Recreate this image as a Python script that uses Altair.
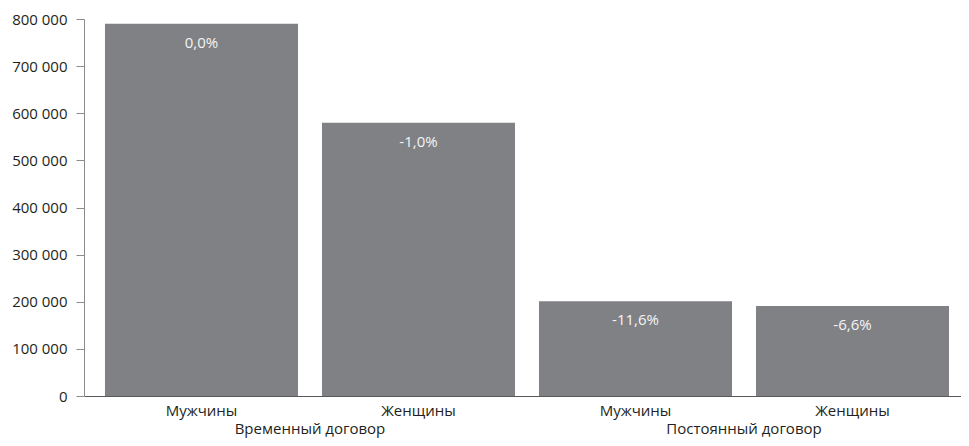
import altair as alt
import pandas as pd

contracts = ["Временный договор", "Временный договор", "Постоянный договор", "Постоянный договор"]
sexes = ["Мужчины", "Женщины", "Мужчины", "Женщины"]
values = [790000, 580000, 201000, 191000]
changes = ["0,0%", "-1,0%", "-11,6%", "-6,6%"]

keys = [f"{c}|{s}" for c, s in zip(contracts, sexes)]
df = pd.DataFrame({"key": keys, "contract": contracts, "sex": sexes,
                   "value": values, "change": changes})

FONT = "Open Sans"
W, H = 877, 377
BAR = "#808185"

x_enc = alt.X("key:N", sort=keys,
              scale=alt.Scale(paddingInner=0.1106, paddingOuter=0.076, align=0.636),
              axis=alt.Axis(title=None, labelAngle=0, ticks=False, labelPadding=7,
                            labelExpr="split(datum.label, '|')[1]",
                            labelFont=FONT, labelFontSize=15, labelColor="#231f20",
                            domainColor="#58585a", domainWidth=1.2, grid=False))

bars = alt.Chart(df).mark_bar(color=BAR).encode(
    x=x_enc,
    y=alt.Y("value:Q", scale=alt.Scale(domain=[0, 800000], nice=False),
            axis=alt.Axis(title=None, values=[0, 100000, 200000, 300000, 400000,
                                              500000, 600000, 700000, 800000],
                          labelExpr="replace(format(datum.value, ','), ',', ' ')",
                          labelFont=FONT, labelFontSize=15, labelColor="#231f20",
                          tickSize=8, tickColor="#8c8c8c", domainColor="#8c8c8c",
                          labelPadding=9, grid=False)),
)

labels = alt.Chart(df).mark_text(color="#f4f4f4", font=FONT, fontSize=15,
                                 baseline="alphabetic", dy=24).encode(
    x=alt.X("key:N", sort=keys),
    y=alt.Y("value:Q"),
    text="change:N",
)

groups = alt.Chart(df).transform_filter(alt.datum.sex == "Мужчины").mark_text(
    font=FONT, fontSize=15, color="#231f20", baseline="alphabetic", dx=12
).encode(
    x=alt.X("key:N", sort=keys, bandPosition=1),
    y=alt.value(H + 38),
    text="contract:N",
)

chart = alt.layer(bars, labels, groups).properties(
    width=W, height=H,
    autosize=alt.AutoSizeParams(type="none"),
    padding={"left": 76, "top": 11, "right": 0, "bottom": 42},
).configure_view(stroke=None)

chart.save("out.html", embed_options={"renderer": "svg", "actions": False})
